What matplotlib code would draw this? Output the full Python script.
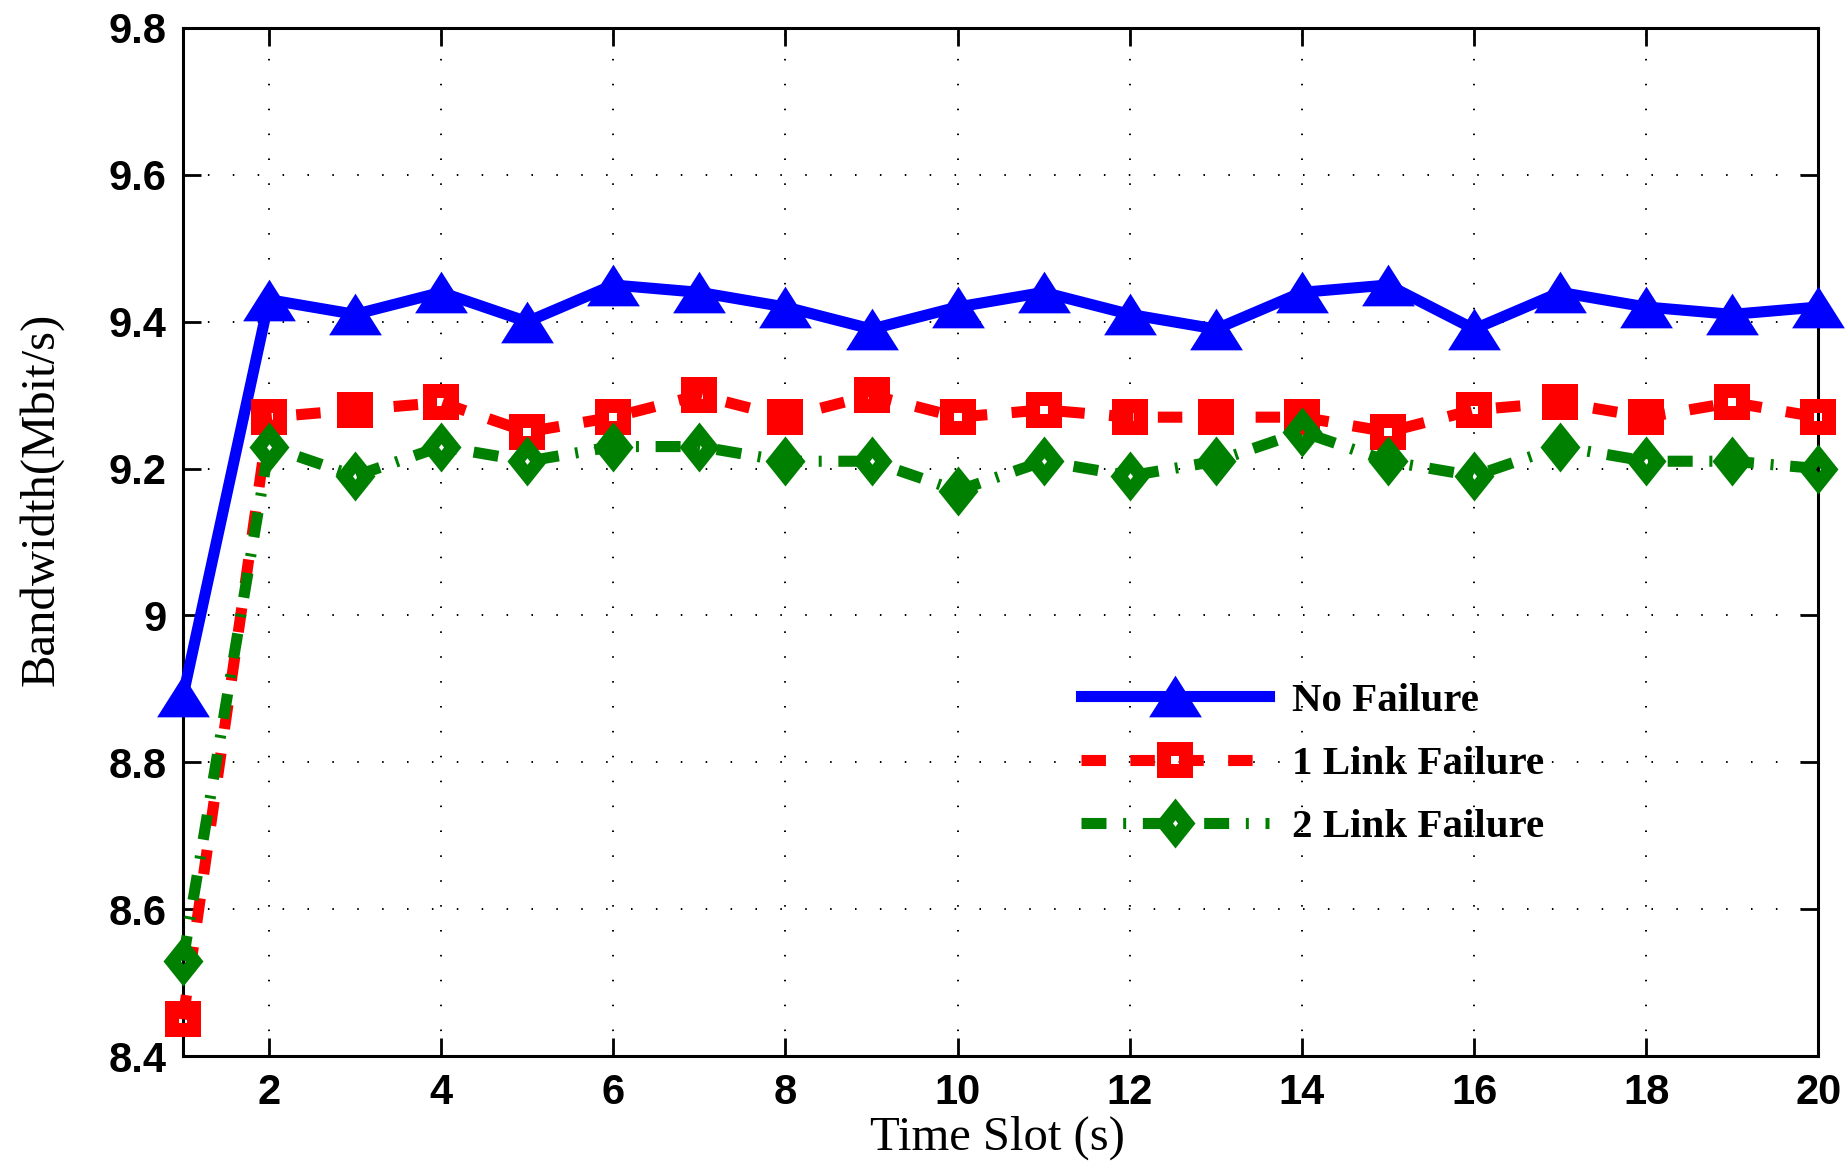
import matplotlib
matplotlib.use("Agg")
import matplotlib.pyplot as plt
from matplotlib.path import Path
import numpy as np

time_slots = list(range(1, 21))
no_failure = [8.89, 9.43, 9.41, 9.44, 9.40, 9.45, 9.44, 9.42, 9.39, 9.42,
              9.44, 9.41, 9.39, 9.44, 9.45, 9.39, 9.44, 9.42, 9.41, 9.42]
one_link = [8.45, 9.27, 9.28, 9.29, 9.25, 9.27, 9.30, 9.27, 9.30, 9.27,
            9.28, 9.27, 9.27, 9.27, 9.25, 9.28, 9.29, 9.27, 9.29, 9.27]
two_link = [8.53, 9.23, 9.19, 9.23, 9.21, 9.23, 9.23, 9.21, 9.21, 9.17,
            9.21, 9.19, 9.21, 9.25, 9.21, 9.19, 9.23, 9.21, 9.21, 9.20]
labels = ["No Failure", "1 Link Failure", "2 Link Failure"]
xticks = list(range(2, 21, 2))
yticks = [8.4, 8.6, 8.8, 9.0, 9.2, 9.4, 9.6, 9.8]
yticklabels = ["8.4", "8.6", "8.8", "9", "9.2", "9.4", "9.6", "9.8"]


def ring(outer, inner):
    o = list(outer) + [outer[0]]
    i = list(inner[::-1]) + [inner[::-1][0]]
    verts = o + i
    codes = ([Path.MOVETO] + [Path.LINETO] * (len(outer) - 1) + [Path.CLOSEPOLY]) * 2
    return Path(verts, codes)


tri = Path([(0, 0.79), (-1, -0.79), (1, -0.79), (0, 0.79)],
           [Path.MOVETO, Path.LINETO, Path.LINETO, Path.CLOSEPOLY])
sq = ring([(-1, -1), (1, -1), (1, 1), (-1, 1)],
          [(-0.2, -0.2), (0.2, -0.2), (0.2, 0.2), (-0.2, 0.2)])
dia = ring([(0, -1), (0.8, 0), (0, 1), (-0.8, 0)],
           [(0, -0.13), (0.1, 0), (0, 0.13), (-0.1, 0)])

fig = plt.figure(figsize=(18.48, 11.66), dpi=100)
ax = fig.add_axes([0.099, 0.0943, 0.885, 0.8817])

ax.plot(time_slots, no_failure, color=(0, 0, 1), lw=8, ls='-',
        marker=tri, ms=38, mfc=(0, 0, 1), mec=(0, 0, 1), mew=0,
        label=labels[0], solid_joinstyle='miter', zorder=3, clip_on=False)
ax.plot(time_slots, one_link, color=(1, 0, 0), lw=8, ls=(0, (2.2, 2.2)),
        marker=sq, ms=26.5, mfc=(1, 0, 0), mew=0,
        label=labels[1], zorder=3, clip_on=False)
ax.plot(time_slots, two_link, color=(0, 0.5, 0), lw=8,
        ls=(0, (2.25, 1.5, 0.27, 1.5)),
        marker=dia, ms=36, mfc=(0, 0.5, 0), mew=0,
        label=labels[2], zorder=3, clip_on=False)

ax.set_xlim(1, 20)
ax.set_ylim(8.4, 9.8)
ax.set_xticks(xticks)
ax.set_yticks(yticks)
ax.set_yticklabels(yticklabels)

for lab in ax.get_xticklabels() + ax.get_yticklabels():
    lab.set_fontfamily('Liberation Sans')
    lab.set_fontweight('bold')
    lab.set_fontsize(30)

ax.tick_params(direction='in', length=13, width=2, top=True, right=True,
               pad=12, colors='black')
for sp in ax.spines.values():
    sp.set_linewidth(2.2)

ax.grid(True, color='black', lw=1.4, ls=(0, (0.8, 12)))
ax.set_axisbelow(True)

ax.set_xlabel("Time Slot (s)", fontfamily='Liberation Serif', fontsize=35)
ax.set_ylabel("Bandwidth(Mbit/s)", fontfamily='Liberation Serif', fontsize=35)
ax.xaxis.set_label_coords(0.498, -0.058)
ax.yaxis.set_label_coords(-0.073, 0.541)

leg = ax.legend(loc='upper left', bbox_to_anchor=(0.549, 0.364), frameon=False,
                handlelength=4.6, handletextpad=0.55, labelspacing=0.63,
                borderpad=0, borderaxespad=0, numpoints=1,
                prop=dict(family='Liberation Serif', weight='bold', size=29.5))

fig.savefig("out.png", dpi=100)
